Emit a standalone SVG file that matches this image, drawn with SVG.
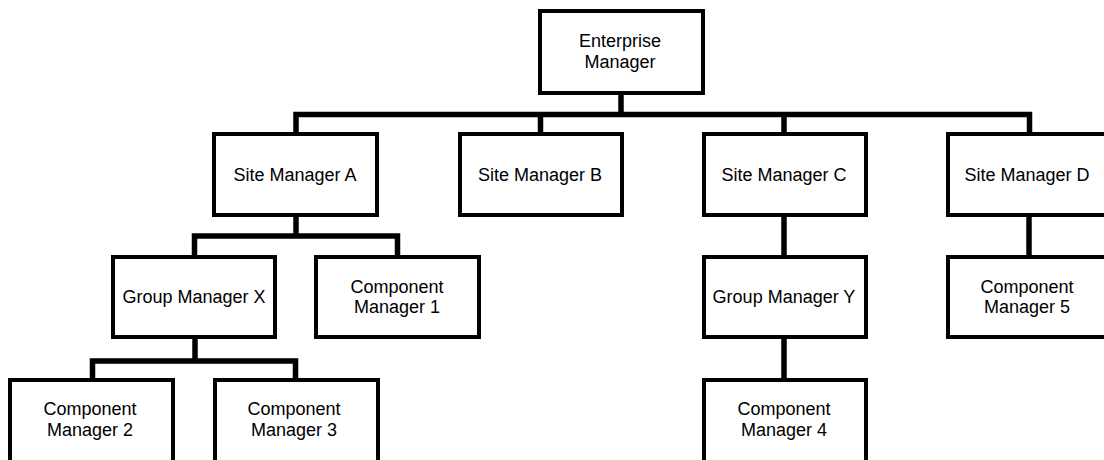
<svg xmlns="http://www.w3.org/2000/svg" width="1104" height="460" viewBox="0 0 1104 460">
<style>
.box{fill:#fff;stroke:#000;stroke-width:4}
.lbl{font-family:"Liberation Sans",Arial,sans-serif;font-size:18px;fill:#000;text-anchor:middle}
.con{fill:none;stroke:#000;stroke-width:5.5}
</style>
<rect width="1104" height="460" fill="#fff"/>
<g id="connectors">
<path class="con" d="M621 95 V114.5"/>
<path class="con" d="M296 134 V114.5 H1029.5 V134"/>
<path class="con" d="M540.5 114.5 V134"/>
<path class="con" d="M784 114.5 V134"/>
<path class="con" d="M296 217 V236"/>
<path class="con" d="M194.5 257 V236 H397.5 V257"/>
<path class="con" d="M784 217 V257"/>
<path class="con" d="M1029 217 V257"/>
<path class="con" d="M195 339 V361"/>
<path class="con" d="M92.5 380 V361 H295.5 V380"/>
<path class="con" d="M784 339 V380"/>
</g>
<g id="enterprise-manager">
<rect class="box" x="540" y="11" width="163" height="82"/>
<text class="lbl" x="620" y="47">Enterprise</text>
<text class="lbl" x="620" y="68">Manager</text>
</g>
<g id="site-manager-a">
<rect class="box" x="214" y="134" width="163" height="81"/>
<text class="lbl" x="295" y="181">Site Manager A</text>
</g>
<g id="site-manager-b">
<rect class="box" x="460" y="134" width="162" height="81"/>
<text class="lbl" x="540" y="181">Site Manager B</text>
</g>
<g id="site-manager-c">
<rect class="box" x="704" y="134" width="162" height="81"/>
<text class="lbl" x="784" y="181">Site Manager C</text>
</g>
<g id="site-manager-d">
<rect class="box" x="948" y="134" width="163" height="81"/>
<text class="lbl" x="1027" y="181">Site Manager D</text>
</g>
<g id="group-manager-x">
<rect class="box" x="113" y="257" width="162" height="80"/>
<text class="lbl" x="194" y="303">Group Manager X</text>
</g>
<g id="component-manager-1">
<rect class="box" x="316" y="257" width="163" height="80"/>
<text class="lbl" x="397" y="293">Component</text>
<text class="lbl" x="397" y="313">Manager 1</text>
</g>
<g id="group-manager-y">
<rect class="box" x="704" y="257" width="162" height="80"/>
<text class="lbl" x="784" y="303">Group Manager Y</text>
</g>
<g id="component-manager-5">
<rect class="box" x="948" y="257" width="163" height="80"/>
<text class="lbl" x="1027" y="293">Component</text>
<text class="lbl" x="1027" y="313">Manager 5</text>
</g>
<g id="component-manager-2">
<rect class="box" x="10" y="380" width="163" height="100"/>
<text class="lbl" x="90" y="415">Component</text>
<text class="lbl" x="90" y="436">Manager 2</text>
</g>
<g id="component-manager-3">
<rect class="box" x="215" y="380" width="163" height="100"/>
<text class="lbl" x="294" y="415">Component</text>
<text class="lbl" x="294" y="436">Manager 3</text>
</g>
<g id="component-manager-4">
<rect class="box" x="704" y="380" width="162" height="100"/>
<text class="lbl" x="784" y="415">Component</text>
<text class="lbl" x="784" y="436">Manager 4</text>
</g>
</svg>
